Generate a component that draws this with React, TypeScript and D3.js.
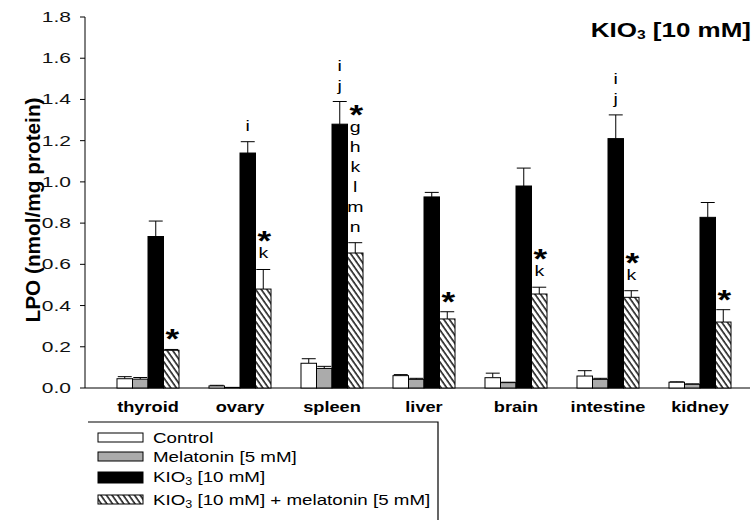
import React from 'react';
import * as d3 from 'd3';

const categories = ['thyroid', 'ovary', 'spleen', 'liver', 'brain', 'intestine', 'kidney'];
const seriesKeys = ['control', 'melatonin', 'kio3', 'combo'];

const control = [0.045, 0.01, 0.12, 0.06, 0.05, 0.058, 0.028];
const controlErr = [0.01, 0.003, 0.022, 0.005, 0.022, 0.026, 0.002];
const melatonin = [0.043, 0.003, 0.095, 0.042, 0.026, 0.042, 0.018];
const melatoninErr = [0.008, 0.0, 0.01, 0.005, 0.002, 0.005, 0.002];
const kio3 = [0.735, 1.14, 1.28, 0.927, 0.98, 1.21, 0.828];
const kio3Err = [0.075, 0.055, 0.11, 0.022, 0.087, 0.115, 0.072];
const combo = [0.183, 0.48, 0.655, 0.335, 0.456, 0.44, 0.32];
const comboErr = [0.004, 0.095, 0.05, 0.035, 0.033, 0.032, 0.06];

const kio3Marks = [[], ['i'], ['i', 'j'], [], [], ['i', 'j'], []];
const comboMarks = [['*'], ['*', 'k'], ['*', 'g', 'h', 'k', 'l', 'm', 'n'], ['*'], ['*', 'k'], ['*', 'k'], ['*']];

const yTicks = [0, 0.2, 0.4, 0.6, 0.8, 1.0, 1.2, 1.4, 1.6, 1.8];

const legendLabels = ['Control', 'Melatonin [5 mM]', 'KIO3 [10 mM]', 'KIO3 [10 mM] + melatonin [5 mM]'];

const values: Record<string, number[]> = { control, melatonin, kio3, combo };
const errors: Record<string, number[]> = { control: controlErr, melatonin: melatoninErr, kio3: kio3Err, combo: comboErr };
const marks: Record<string, string[][]> = { kio3: kio3Marks, combo: comboMarks };

const fills: Record<string, string> = {
  control: '#ffffff',
  melatonin: '#ababab',
  kio3: '#000000',
  combo: 'url(#hatch)',
};

const FONT = 'Arial, "Liberation Sans", Helvetica, sans-serif';
const SX = 1.3;

// renders "KIO3 ..." with subscript 3
const richLabel = (s: string, sub: number) => {
  if (!s.startsWith('KIO3')) return s;
  return (
    <>
      KIO<tspan fontSize={sub} dy={3}>3</tspan>
      <tspan dy={-3}>{s.slice(4)}</tspan>
    </>
  );
};

const App: React.FC = () => {
  const W = 753;
  const H = 520;

  const y = d3.scaleLinear().domain([0, 1.8]).range([388, 17]);
  const x0 = d3.scaleBand<string>()
    .domain(categories)
    .range([102, 746])
    .paddingInner(0.326)
    .paddingOuter(0.163);
  const x1 = d3.scaleBand<string>()
    .domain(seriesKeys)
    .range([0, x0.bandwidth()]);

  const axisX = 85;
  const bw = x1.bandwidth();

  return (
    <svg width={W} height={H} style={{ position: 'absolute', left: 0, top: 0, background: '#fff' }} fontFamily={FONT}>
      <defs>
        <pattern id="hatch" patternUnits="userSpaceOnUse" width={4.6} height={10} patternTransform="rotate(-35)">
          <rect width={4.6} height={10} fill="#fff" />
          <line x1={1} y1={0} x2={1} y2={10} stroke="#000" strokeWidth={1.4} />
        </pattern>
      </defs>

      {/* y axis */}
      <line x1={axisX} x2={axisX} y1={y(1.8)} y2={y(0)} stroke="#000" strokeWidth={1} />
      {yTicks.map(t => (
        <g key={t}>
          <line x1={axisX - 5} x2={axisX} y1={y(t)} y2={y(t)} stroke="#000" />
          <text
            transform={`translate(71,${y(t)}) scale(1.5,1)`}
            textAnchor="end"
            dy="0.36em"
            fontSize={14}
            fill="#111"
          >
            {d3.format('.1f')(t)}
          </text>
        </g>
      ))}
      <text
        transform={`translate(40,210) rotate(-90)`}
        textAnchor="middle"
        fontSize={21}
        fontWeight="bold"
        textLength={225}
        lengthAdjust="spacingAndGlyphs"
      >
        LPO (nmol/mg protein)
      </text>

      {/* x axis baseline */}
      <line x1={axisX} x2={750} y1={y(0)} y2={y(0)} stroke="#000" />

      {/* bars */}
      {categories.map((c, i) => (
        <g key={c} transform={`translate(${x0(c)},0)`}>
          {seriesKeys.map(k => {
            const v = values[k][i];
            const e = errors[k][i];
            const bx = x1(k) as number;
            const cx = bx + bw / 2;
            const top = y(v + e);
            const m = marks[k] ? marks[k][i] : [];
            const letters = m.filter(s => s !== '*');
            const star = m.includes('*');
            const letterBase = (j: number) => top - 11 - 20 * (letters.length - 1 - j);
            const starBase = letters.length ? letterBase(0) - 8 : top - 1;
            return (
              <g key={k}>
                {e > 0.001 && (
                  <>
                    <line x1={cx} x2={cx} y1={y(v)} y2={top} stroke="#000" />
                    <line x1={cx - bw * 0.45} x2={cx + bw * 0.45} y1={top} y2={top} stroke="#000" />
                  </>
                )}
                <rect
                  x={bx}
                  y={y(v)}
                  width={bw}
                  height={y(0) - y(v)}
                  fill={fills[k]}
                  stroke="#000"
                  strokeWidth={1}
                />
                {letters.map((s, j) => (
                  <text
                    key={j}
                    transform={`translate(${cx},${letterBase(j)}) scale(1.3,1)`}
                    textAnchor="middle"
                    fontSize={15}
                  >
                    {s}
                  </text>
                ))}
                {star && (
                  <text
                    transform={`translate(${cx + 1},${starBase}) scale(1.3,1)`}
                    textAnchor="middle"
                    fontSize={27}
                    fontWeight="bold"
                  >
                    *
                  </text>
                )}
              </g>
            );
          })}
          <text
            transform={`translate(${x0.bandwidth() / 2},412) scale(${SX},1)`}
            textAnchor="middle"
            fontSize={14}
            fontWeight="bold"
          >
            {c}
          </text>
        </g>
      ))}

      {/* title */}
      <text transform={`translate(751,37) scale(1.3,1)`} textAnchor="end" fontSize={20} fontWeight="bold">
        KIO<tspan fontSize={12} dy={2}>3</tspan>
        <tspan dy={-2}> [10 mM]</tspan>
      </text>

      {/* legend */}
      <path d="M 88 422 H 438 V 530" fill="none" stroke="#000" strokeWidth={1.2} />
      {seriesKeys.map((k, i) => {
        const rowY = [438, 457, 477, 500][i];
        return (
          <g key={k}>
            <rect x={98} y={rowY - 5} width={45} height={i === 2 ? 11 : 9} fill={fills[k]} stroke="#000" />
            <text
              transform={`translate(153,${rowY + 5}) scale(1.25,1)`}
              fontSize={15}
            >
              {richLabel(legendLabels[i], 10)}
            </text>
          </g>
        );
      })}
    </svg>
  );
};

export default App;
